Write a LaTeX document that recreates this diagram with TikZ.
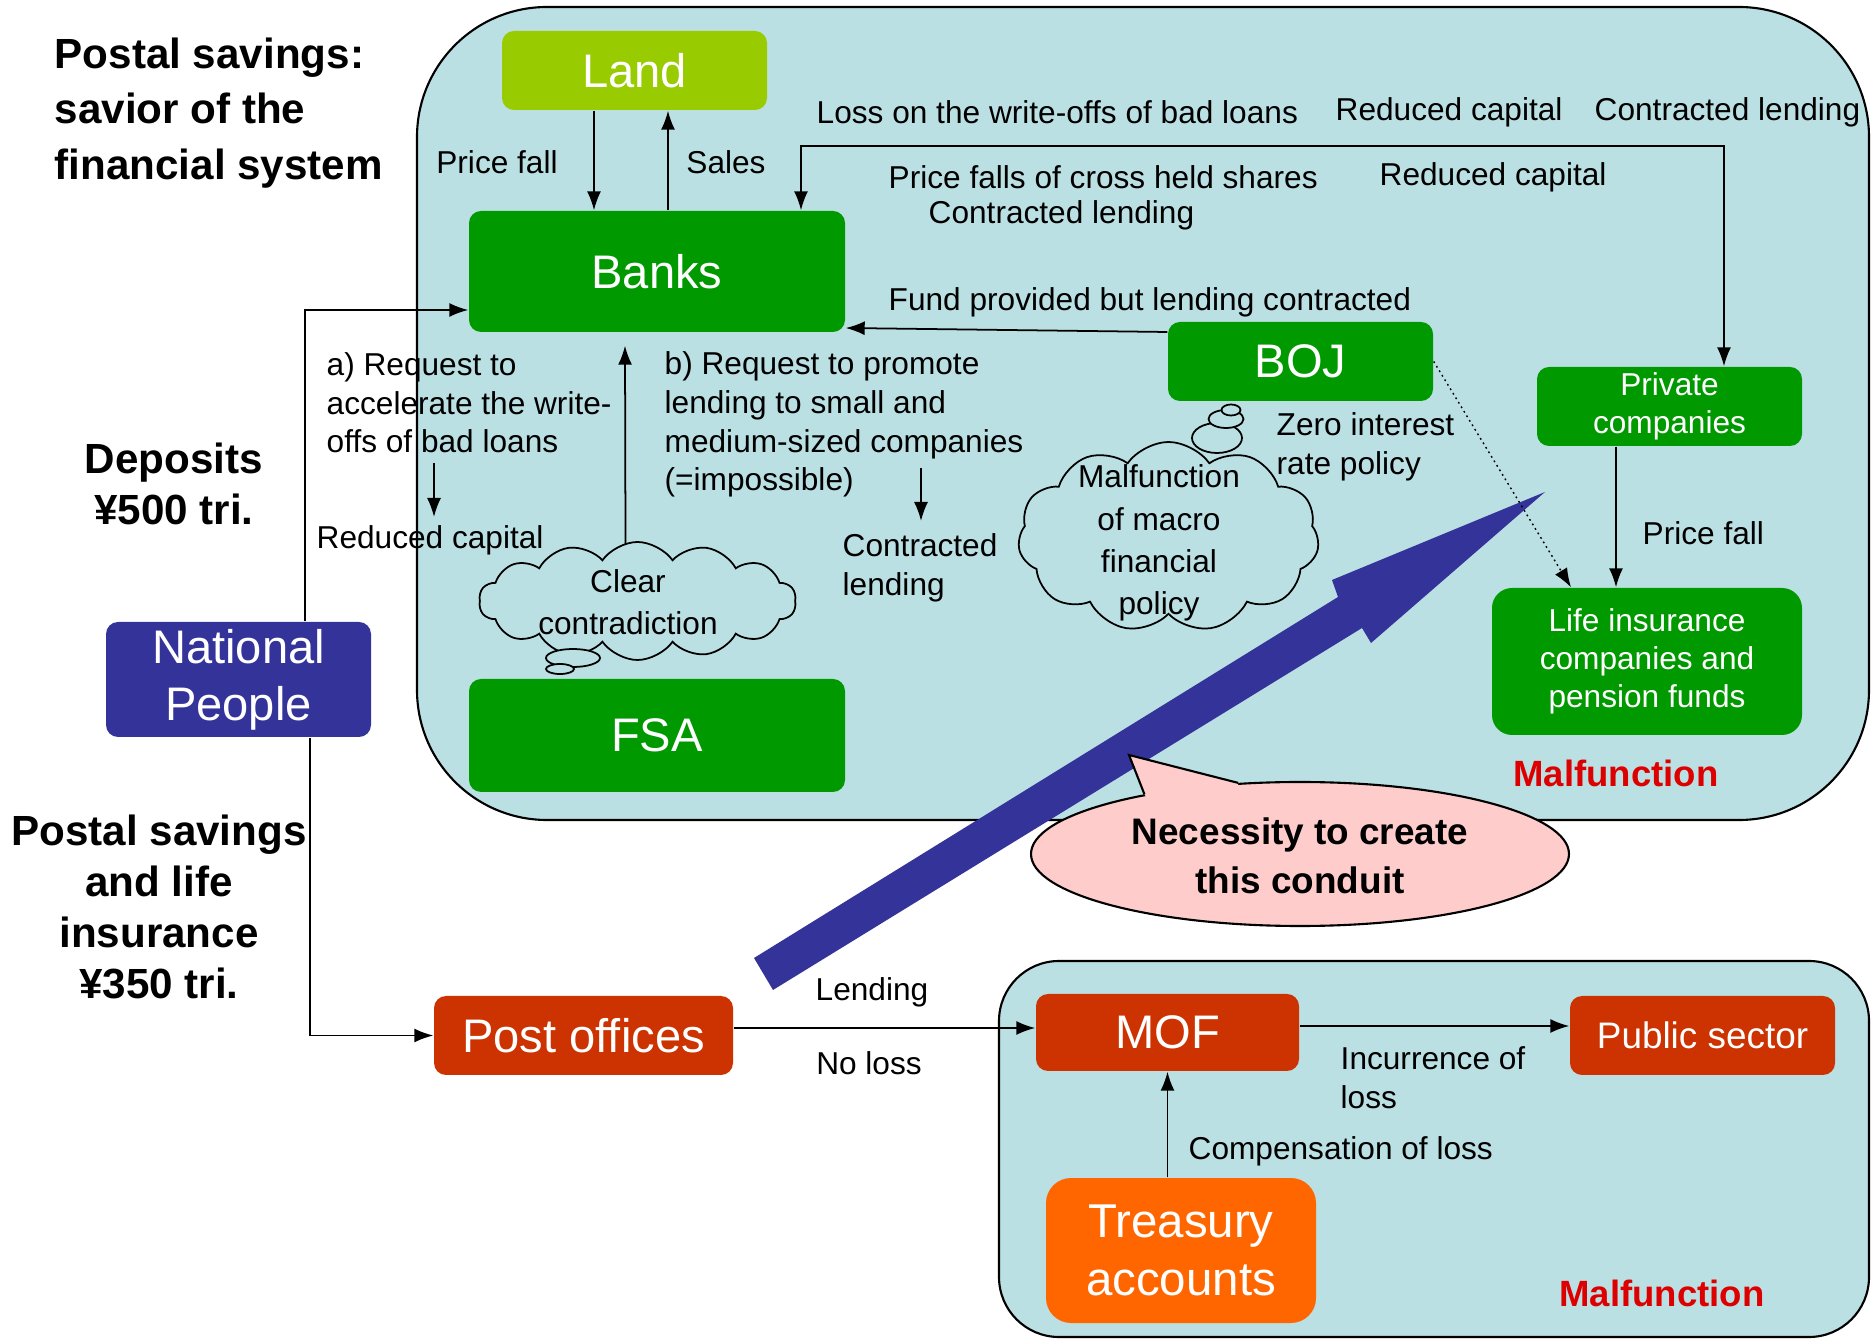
\documentclass[tikz,border=0pt]{standalone}
\usepackage{fontspec}
\setmainfont{Liberation Sans}
\usepackage{tikz}
\usetikzlibrary{calc}
\usetikzlibrary{positioning}
\usetikzlibrary{shapes.geometric}
\usetikzlibrary{shapes.symbols}
\usetikzlibrary{arrows.meta}
\definecolor{colorRegion}{HTML}{BBE0E3}
\definecolor{colorLand}{HTML}{99CC00}
\definecolor{colorBank}{HTML}{009900}
\definecolor{colorPeople}{HTML}{333399}
\definecolor{colorPost}{HTML}{CC3300}
\definecolor{colorTreasury}{HTML}{FF6600}
\definecolor{colorBubble}{HTML}{FFCCCC}
\definecolor{colorWarn}{HTML}{DD0000}
\tikzstyle{region} = [draw, fill=colorRegion, line width=0.6pt]
\tikzstyle{orgnode} = [rounded corners=1.2mm, text=white, align=center, inner sep=0pt, font=\fontsize{13.4}{16.3}\selectfont]
\tikzstyle{smallorg} = [orgnode, font=\fontsize{9}{10.8}\selectfont]
\tikzstyle{lblnode} = [inner sep=0pt, align=left, font=\fontsize{9}{11}\selectfont]
\tikzstyle{boldnode} = [inner sep=0pt, align=center, font=\bfseries\fontsize{12}{14.5}\selectfont]
\tikzstyle{warnnode} = [inner sep=0pt, text=colorWarn, font=\bfseries\fontsize{10.4}{12}\selectfont]
\tikzstyle{flow} = [-{Latex[length=1.9mm,width=1.4mm]}, line width=0.5pt]
\tikzstyle{biflow} = [{Latex[length=1.9mm,width=1.4mm]}-{Latex[length=1.9mm,width=1.4mm]}, line width=0.5pt]
\tikzstyle{thought} = [cloud, draw, fill=colorRegion, line width=0.5pt, cloud ignores aspect, inner sep=0pt]
\tikzstyle{thoughttext} = [inner sep=0pt, align=center, font=\fontsize{9}{12}\selectfont]
\tikzstyle{puff} = [ellipse, draw, fill=colorRegion, line width=0.5pt, inner sep=0pt]

\begin{document}
\begin{tikzpicture}[x=0.1mm, y=-0.1mm]
\useasboundingbox (0,0) rectangle (1871,1339);
\draw[region, rounded corners=13mm] (417,7) rectangle (1869,820);
\draw[region, rounded corners=6mm] (999,961) rectangle (1869,1337);

\node[orgnode, fill=colorLand, minimum width=26.5mm, minimum height=7.9mm] (land) at (634.5,70.5) {Land};
\node[orgnode, fill=colorBank, minimum width=37.6mm, minimum height=12.1mm] (banks) at (657,271.5) {Banks};
\node[orgnode, fill=colorBank, minimum width=26.5mm, minimum height=7.9mm] (boj) at (1300.5,361.5) {BOJ};
\node[smallorg, fill=colorBank, minimum width=26.5mm, minimum height=7.9mm] (priv_comp) at (1669.5,406.5) {Private\\companies};
\node[smallorg, fill=colorBank, minimum width=31mm, minimum height=14.7mm, rounded corners=2mm] (life_ins) at (1647,661.5) {Life insurance\\companies and\\pension funds};
\node[orgnode, fill=colorBank, minimum width=37.6mm, minimum height=11.3mm] (fsa) at (657,735.5) {FSA};
\node[orgnode, fill=colorPeople, minimum width=26.5mm, minimum height=11.5mm] (nat_people) at (238.5,679.5) {National\\People};
\node[orgnode, fill=colorPost, minimum width=29.9mm, minimum height=7.9mm] (post_off) at (583.5,1035.5) {Post offices};
\node[orgnode, fill=colorPost, minimum width=26.3mm, minimum height=7.7mm] (mof) at (1167.5,1032.5) {MOF};
\node[orgnode, fill=colorPost, minimum width=26.5mm, minimum height=7.9mm, font=\fontsize{10.5}{12.6}\selectfont] (pub_sector) at (1702.5,1035.5) {Public sector};
\node[orgnode, fill=colorTreasury, minimum width=27mm, minimum height=14.5mm, rounded corners=2.5mm, font=\fontsize{13.5}{16.6}\selectfont] (treasury) at (1181,1250.5) {Treasury\\accounts};

\node[thought, cloud puffs=14, cloud puff arc=110, minimum width=31.7mm, minimum height=11.8mm] (cloud_contra) at (637.5,601) {};
\node[puff, minimum width=5.4mm, minimum height=1.8mm] (contra_puff1) at (573,658) {};
\node[puff, minimum width=2.8mm, minimum height=1mm] (contra_puff2) at (560,669) {};
\node[thoughttext] (contra_text) at (628,602) {Clear\\contradiction};
\node[thought, cloud puffs=11, cloud puff arc=110, minimum width=30.1mm, minimum height=19mm] (cloud_macro) at (1168.5,537) {};
\node[puff, minimum width=5mm, minimum height=3mm] (macro_puff1) at (1217,438) {};
\node[puff, minimum width=3.5mm, minimum height=1.8mm] (macro_puff2) at (1226,419) {};
\node[puff, minimum width=1.9mm, minimum height=1.1mm] (macro_puff3) at (1231,410) {};
\node[thoughttext] (macro_text) at (1159,543) {Malfunction\\of macro\\financial\\policy};

\fill[colorPeople] (754,958) -- (1338,597) -- (1332,580) -- (1545,492) -- (1371,643) -- (1362,628) -- (773,990) -- cycle;

\draw[flow] ([xshift=-4.05mm]land.south) -- ([xshift=-4.05mm]land.south |- banks.north);
\draw[flow] ([xshift=1.1mm]banks.north) -- ([xshift=1.1mm]banks.north |- land.south);
\draw[biflow] ([xshift=14.4mm]banks.north) -- ++(0,-64) -| ([xshift=5.45mm]priv_comp.north);
\draw[flow] ([yshift=2.95mm]boj.west) -- ([yshift=-5.65mm]banks.east);
\draw[flow] ([xshift=6.65mm]nat_people.north) |- ([yshift=-3.85mm]banks.west);
\draw[flow] ([xshift=7.15mm]nat_people.south) |- (post_off.west);
\draw[flow] ([yshift=0.75mm]post_off.east) -- ([yshift=0.75mm]post_off.east -| mof.west);
\draw[flow] ([yshift=0.65mm]mof.east) -- ([yshift=0.65mm]mof.east -| pub_sector.west);
\draw[flow] (treasury.north -| mof.south) -- (mof.south);
\draw[flow] ([xshift=-5.35mm]priv_comp.south) -- ([xshift=-5.35mm]priv_comp.south |- life_ins.north);
\draw[flow, densely dotted, line width=0.4pt] (boj.east) -- ([xshift=-7.6mm]life_ins.north);
\draw[flow] ($(cloud_contra.north)+(-12,3)$) -- ($(banks.south)+(-32,13)$);
\coordinate (req_a_end) at (434,463);
\draw[flow] (req_a_end) -- ++(0,54);
\coordinate (req_b_end) at (921,468);
\draw[flow] (req_b_end) -- ++(0,53);

\node[lblnode] (lbl_price_fall) at (497,162) {Price fall};
\node[lblnode] (lbl_sales) at (726,162) {Sales};
\node[lblnode, anchor=west] (lbl_loss) at (816,112) {Loss on the write-offs of bad loans};
\node[lblnode, anchor=west] (lbl_cap_top) at (1335,112) {Reduced capital};
\node[lblnode, anchor=west] (lbl_lend_top) at (1594,112) {Contracted lending};
\node[lblnode, anchor=west] (lbl_shares) at (888,177) {Price falls of cross held shares};
\node[lblnode, anchor=west] (lbl_cap_mid) at (1379,177) {Reduced capital};
\node[lblnode, anchor=west] (lbl_lend_mid) at (928,215) {Contracted lending};
\node[lblnode, anchor=west] (lbl_fund) at (888,302) {Fund provided but lending contracted};
\node[lblnode, anchor=west] (lbl_req_a) at (326,403) {a) Request to\\accelerate the write-\\offs of bad loans};
\node[lblnode, anchor=west] (lbl_cap_a) at (316,540) {Reduced capital};
\node[lblnode, anchor=west] (lbl_req_b) at (664,424.5) {b) Request to promote\\lending to small and\\medium-sized companies\\(=impossible)};
\node[lblnode, anchor=west] (lbl_lend_b) at (842,567.5) {Contracted\\lending};
\node[lblnode, anchor=west] (lbl_zero) at (1276,447) {Zero interest\\rate policy};
\node[lblnode, anchor=west] (lbl_price_life) at (1642,533) {Price fall};
\node[lblnode] (lbl_lending) at (872,992) {Lending};
\node[lblnode] (lbl_noloss) at (869,1063) {No loss};
\node[lblnode, anchor=west] (lbl_incur) at (1340,1078) {Incurrence of\\loss};
\node[lblnode, anchor=west] (lbl_comp) at (1188,1151) {Compensation of loss};
\node[warnnode] (warn_top) at (1616,773) {Malfunction};
\node[warnnode] (warn_bottom) at (1662,1293) {Malfunction};

\node[boldnode, align=left, anchor=west, font=\bfseries\fontsize{12}{15.9}\selectfont] (title) at (54,113) {Postal savings:\\savior of the\\financial system};
\node[boldnode] (deposits) at (174,483.5) {Deposits\\¥500 tri.};
\node[boldnode] (postal_sum) at (159,907) {Postal savings\\and life\\insurance\\¥350 tri.};

\node[ellipse, draw, fill=colorBubble, line width=0.6pt, minimum width=53.8mm, minimum height=14.4mm, inner sep=0pt] (bubble) at (1300,854) {};
\coordinate (bubble_tip) at (1129,755);
\fill[colorBubble] (bubble.159) -- (bubble_tip) -- (bubble.131) -- ($(bubble.131)+(0,8)$) -- ($(bubble.159)+(4,6)$) -- cycle;
\draw[line width=0.6pt] (bubble.159) -- (bubble_tip) -- (bubble.131);
\node[boldnode, font=\bfseries\fontsize{10.5}{14}\selectfont] (bubble_text) at (1300,856) {Necessity to create\\this conduit};
\end{tikzpicture}
\end{document}
